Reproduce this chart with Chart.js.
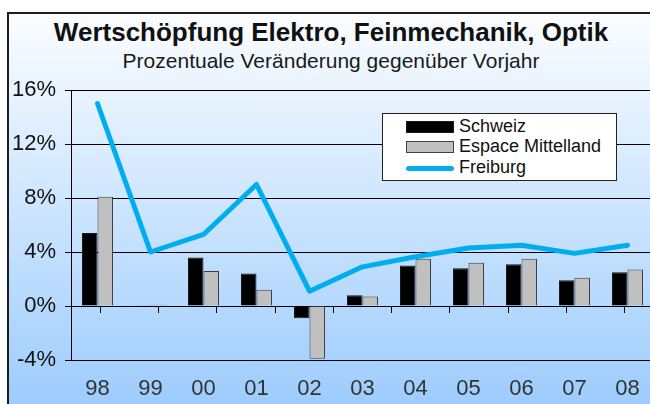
<!DOCTYPE html>
<html lang="de">
<head>
<meta charset="UTF-8" />
<title>Wertschöpfung Elektro, Feinmechanik, Optik</title>
<script src="https://cdn.jsdelivr.net/npm/chart.js"></script>
<style>
  html, body {
    margin: 0;
    padding: 0;
    width: 650px;
    height: 404px;
    overflow: hidden;
    background: #fff;
    font-family: 'Liberation Sans', Arial, sans-serif;
  }
  .frame {
    position: absolute;
    left: 7px;
    top: 12px;
    width: 700px;
    height: 420px;
    border: 2px solid #1e1e1e;
    background: linear-gradient(to bottom, #fbfdff 0px, #9dccfd 392px);
  }
  .title {
    position: absolute;
    left: 0;
    width: 662px;
    text-align: center;
    color: #111;
    white-space: nowrap;
  }
  #t1 { top: 17px; font-size: 26px; font-weight: bold; }
  #t2 { top: 49px; font-size: 21px; color: #1a1a1a; }
  .wrap {
    position: absolute;
    left: 0;
    top: 0;
    width: 662px;
    height: 404px;
  }
  .legend {
    position: absolute;
    left: 382px;
    top: 113px;
    width: 235px;
    height: 68px;
    background: #fff;
    border: 1px solid #222;
    box-sizing: border-box;
  }
  .legend .item {
    position: absolute;
    left: 23px;
    height: 20px;
    font-size: 18px;
    line-height: 20px;
    color: #111;
    white-space: nowrap;
  }
  .legend .sw {
    display: inline-block;
    width: 48px;
    vertical-align: middle;
    margin-right: 5px;
    box-sizing: border-box;
  }
</style>
</head>
<body>

<div class="frame"></div>
<div class="title" id="t1">Wertschöpfung Elektro, Feinmechanik, Optik</div>
<div class="title" id="t2">Prozentuale Veränderung gegenüber Vorjahr</div>
<div class="wrap"><canvas id="chart" width="662" height="404"></canvas></div>
<div class="legend" id="legend"></div>

<script>
  const years = ['98', '99', '00', '01', '02', '03', '04', '05', '06', '07', '08'];
  const schweiz = [5.4, 0.05, 3.6, 2.4, -0.9, 0.8, 3.0, 2.8, 3.1, 1.9, 2.5];
  const espace = [8.1, 0.1, 2.6, 1.2, -3.9, 0.7, 3.5, 3.2, 3.5, 2.1, 2.7];
  const freiburg = [15.0, 4.0, 5.3, 9.0, 1.1, 2.9, 3.65, 4.3, 4.5, 3.9, 4.5];
  const yMin = -4, yMax = 16, yStep = 4;

  const font = "'Liberation Sans', Arial, sans-serif";

  const datasets = [
    { type: 'bar', label: 'Schweiz', data: schweiz, backgroundColor: '#000000',
      borderColor: '#1a1a1a', borderWidth: 1, order: 1 },
    { type: 'bar', label: 'Espace Mittelland', data: espace, backgroundColor: '#c0c0c0',
      borderColor: '#404040', borderWidth: 1, order: 1 },
    { type: 'line', label: 'Freiburg', data: freiburg, borderColor: '#00aeef',
      borderWidth: 5, pointRadius: 0, tension: 0, fill: false, order: 0,
      borderJoinStyle: 'round', borderCapStyle: 'round' }
  ];

  new Chart(document.getElementById('chart'), {
    data: { labels: years, datasets: datasets },
    options: {
      responsive: false,
      animation: false,
      layout: { padding: { left: 0, top: 90, right: 8, bottom: 0 } },
      datasets: { bar: { categoryPercentage: 0.585, barPercentage: 1.0 } },
      plugins: { legend: { display: false }, tooltip: { enabled: false } },
      scales: {
        x: {
          position: 'bottom',
          grid: { display: false, drawTicks: false },
          border: { display: false },
          ticks: { color: '#333', font: { family: font, size: 22 }, padding: 16, maxRotation: 0 },
          afterFit: s => { s.height = 44; }
        },
        x0: {
          type: 'category',
          position: { y: 0 },
          grid: { offset: true, drawOnChartArea: false, drawTicks: true, tickLength: 6, color: '#000' },
          border: { display: true, color: '#000', width: 1 },
          ticks: { display: false }
        },
        y: {
          min: yMin, max: yMax,
          ticks: { stepSize: yStep, color: '#111', padding: 9,
                   font: { family: font, size: 22 }, callback: v => v + '%' },
          grid: { color: '#000', lineWidth: 1, tickLength: 6 },
          border: { display: true, color: '#000', width: 1 },
          afterFit: s => { s.width = 71; }
        }
      }
    }
  });

  // legend built from the dataset definitions
  const legend = document.getElementById('legend');
  const rowTops = [2, 22, 43];
  datasets.forEach((d, i) => {
    const item = document.createElement('div');
    item.className = 'item';
    item.style.top = rowTops[i] + 'px';
    const sw = document.createElement('span');
    sw.className = 'sw';
    if (d.type === 'bar') {
      sw.style.height = '12px';
      sw.style.background = d.backgroundColor;
      sw.style.border = '1px solid ' + d.borderColor;
    } else {
      sw.style.height = '5px';
      sw.style.borderRadius = '3px';
      sw.style.background = d.borderColor;
    }
    item.appendChild(sw);
    item.appendChild(document.createTextNode(d.label));
    legend.appendChild(item);
  });
</script>

</body>
</html>
